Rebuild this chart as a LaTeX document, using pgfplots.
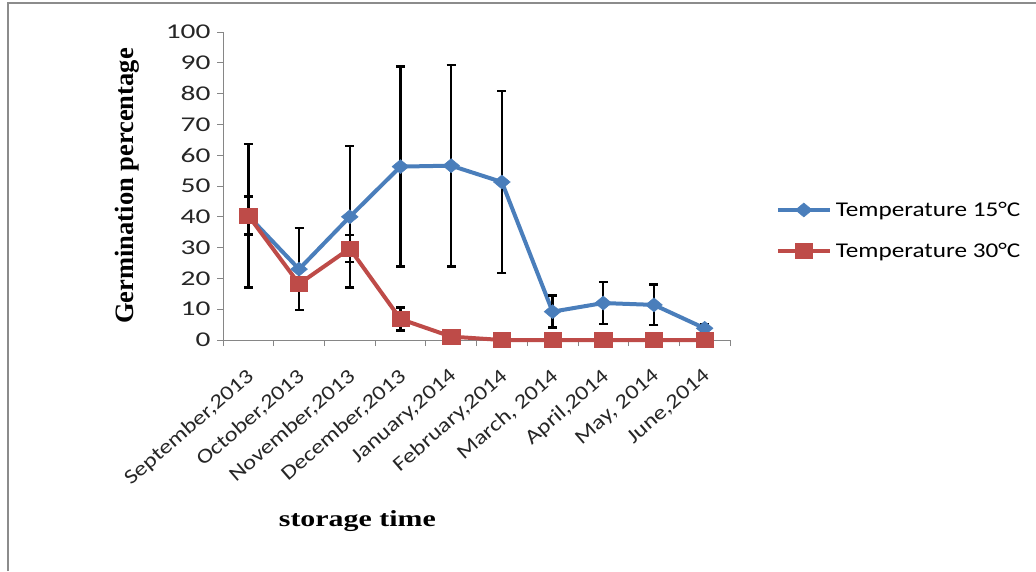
\documentclass[border=0pt]{standalone}
\usepackage{pgfplots}
\pgfplotsset{compat=1.18}
\usepackage{fontspec}
\setmainfont{Liberation Serif}
\newfontfamily\calib[FakeStretch=1.2]{Carlito}
\newfontfamily\calibw[FakeStretch=1.4]{Carlito}
\newfontfamily\timesw[FakeStretch=1.3]{Liberation Serif}
\definecolor{xblue}{HTML}{4A7EBB}
\definecolor{xred}{HTML}{BE4B48}
\definecolor{axgray}{HTML}{868686}
\definecolor{framegray}{HTML}{8C8C8C}
\begin{document}
\begin{tikzpicture}[x=1pt,y=1pt]
\useasboundingbox (0,0) rectangle (1036,571);
\draw[framegray, line width=2.2pt] (8,0) -- (8,568) -- (1036,568);
\begin{axis}[
  at={(223pt,231pt)}, anchor=south west,
  scale only axis, width=507pt, height=308pt,
  xmin=0.5, xmax=10.5, ymin=0, ymax=100,
  axis lines*=left,
  axis line style={axgray, line width=1pt},
  tick style={axgray, line width=0.8pt},
  tick align=outside, major tick length=6pt,
  ytick={0,10,...,100},
  xtick={0.5,1.5,...,10.5},
  x tick label as interval,
  xticklabels={{September,2013},{October,2013},{November,2013},{December,2013},{January,2014},{February,2014},{March, 2014},{April,2014},{May, 2014},{June,2014},{}},
  /pgf/number format/assume math mode=true,
  ticklabel style={text=black!85},
  yticklabel style={font=\calibw\fontsize{21}{25}\selectfont, xshift=-3pt},
  xticklabel style={font=\calib\fontsize{20.5}{24}\selectfont, rotate=41, anchor=north east, inner sep=0pt, xshift=-16pt, yshift=-14pt},
  ylabel={Germination percentage},
  ylabel style={font=\bfseries\fontsize{26.5}{30}\selectfont, at={(axis description cs:-0.189,0.5)}, anchor=center},
  xlabel={storage time},
  xlabel style={font=\timesw\bfseries\fontsize{23}{27}\selectfont, at={(axis description cs:0.265,-0.588)}, anchor=center},
  clip=false,
  error bars/error bar style={black, line width=2.4pt},
  error bars/error mark options={black, rotate=90, mark size=4.5pt, line width=2.4pt},
  legend style={at={(axis description cs:1.09,0.455)}, anchor=north west, draw=none, fill=none,
    font=\calib\fontsize{21}{25}\selectfont, row sep=21pt, inner sep=0pt,
    nodes={inner xsep=4pt}},
  legend cell align=left,
  legend image code/.code={\draw[mark repeat=2,mark phase=2,#1] plot coordinates {(0pt,0pt) (26pt,0pt) (52pt,0pt)};},
]
\addplot[xblue, line width=4pt, mark=diamond*, mark size=7pt,
  mark options={xscale=1.6, solid, line width=0.5pt},
  error bars/.cd, y dir=both, y explicit]
coordinates {
(1,40.3) +- (0,23.3)
(2,23.0) +- (0,13.3)
(3,40.0) +- (0,23.0)
(4,56.3) +- (0,32.5)
(5,56.6) +- (0,32.7)
(6,51.3) +- (0,29.6)
(7,9.2) +- (0,5.2)
(8,12.0) +- (0,6.9)
(9,11.4) +- (0,6.6)
(10,3.8) +- (0,1.4)
};
\addlegendentry{Temperature 15°C}
\addplot[xred, line width=4pt, mark=square*, mark size=7.5pt,
  mark options={xscale=1.15, solid, line width=0.5pt},
  error bars/.cd, y dir=both, y explicit]
coordinates {
(1,40.4) +- (0,6.2)
(2,18.2) +- (0,1.5)
(3,29.7) +- (0,4.4)
(4,6.8) +- (0,3.7)
(5,1.1) +- (0,0.5)
(6,0) +- (0,0)
(7,0) +- (0,0)
(8,0) +- (0,0)
(9,0) +- (0,0)
(10,0) +- (0,0)
};
\addlegendentry{Temperature 30°C}
\end{axis}
\end{tikzpicture}
\end{document}
